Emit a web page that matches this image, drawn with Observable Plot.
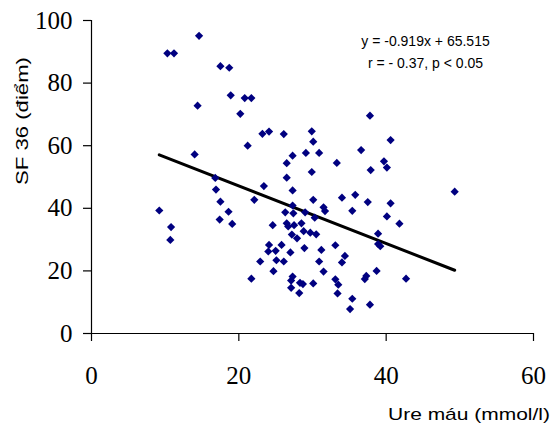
<!DOCTYPE html>
<html>
<head>
<meta charset="utf-8">
<script src="https://cdn.jsdelivr.net/npm/d3@7"></script>
<script src="https://cdn.jsdelivr.net/npm/@observablehq/plot@0.6"></script>
<style>
  html, body { margin: 0; padding: 0; background: #fff; }
  #chart svg { display: block; }
  .serif-lbl { font-family: "Liberation Serif", "Times New Roman", serif !important; }
  .sans-lbl { font-family: "Liberation Sans", Arial, sans-serif !important; }
</style>
</head>
<body>
<div id="chart"></div>
<script>
// Ure máu (mmol/l)
const ureMau = [
  9.2, 10.3, 11.2, 10.8, 10.7, 14.6, 14.4, 14.0, 16.8, 16.9,
  17.5, 18.6, 17.4, 19.1, 17.5, 18.7, 18.9, 20.8, 21.7, 20.2,
  21.2, 21.7, 22.1, 22.9, 23.2, 24.1, 23.4, 24.1, 24.0, 24.6,
  24.7, 25.0, 25.1, 25.8, 26.1, 26.1, 26.3, 26.5, 26.5, 26.5,
  26.7, 27.0, 27.3, 27.1, 27.1, 27.2, 27.3, 27.3, 27.4, 27.3,
  27.5, 27.9, 28.2, 28.3, 28.7, 28.5, 28.8, 28.9, 29.0, 29.1,
  29.7, 29.9, 30.1, 29.9, 30.1, 30.1, 30.3, 30.5, 30.9, 30.9,
  31.2, 31.5, 31.5, 31.7, 33.1, 33.1, 33.5, 33.4, 33.3, 34.0,
  34.4, 34.0, 35.1, 35.4, 35.4, 35.8, 36.6, 37.3, 37.1, 37.5,
  37.8, 37.8, 37.9, 38.7, 38.9, 38.9, 39.2, 39.7, 40.1, 40.1,
  40.6, 40.6, 41.8, 42.7, 49.3
];
// SF 36 (điểm)
const sf36 = [
  39.3, 89.5, 89.5, 34.0, 29.9, 95.1, 72.8, 57.2, 49.7, 46.0,
  42.1, 38.9, 36.4, 35.0, 85.4, 84.9, 76.1, 75.2, 75.2, 70.2,
  60.0, 17.5, 42.7, 23.0, 63.8, 64.5, 47.1, 28.3, 26.2, 34.6,
  19.9, 26.4, 23.4, 28.3, 23.0, 63.7, 38.7, 54.4, 49.8, 35.2,
  34.2, 25.9, 18.2, 16.9, 14.6, 31.6, 56.8, 45.7, 38.4, 40.9,
  34.6, 30.4, 12.9, 16.2, 15.8, 35.2, 32.7, 27.3, 38.7, 57.7,
  32.2, 64.6, 61.3, 51.6, 42.7, 16.0, 37.0, 31.7, 57.7, 23.0,
  26.7, 19.8, 40.3, 39.1, 28.2, 17.3, 15.6, 12.8, 54.5, 43.4,
  24.8, 22.7, 7.8, 39.2, 11.1, 44.3, 58.6, 18.4, 17.4, 42.0,
  69.6, 9.2, 52.2, 20.0, 31.9, 28.6, 27.9, 55.0, 53.0, 37.4,
  61.8, 41.6, 35.1, 17.5, 45.3
];

const slope = -0.919;
const intercept = 65.515;
const xTicks = [0, 20, 40, 60];
const yTicks = [0, 20, 40, 60, 80, 100];
const xTitle = "Ure máu (mmol/l)";
const yTitle = "SF 36 (điểm)";
const annotation = ["y = -0.919x + 65.515", "r = - 0.37, p < 0.05"];

const points = ureMau.map((x, i) => ({x, y: sf36[i]}));
const ext = d3.extent(ureMau);
const fitLine = ext.map(x => ({x, y: slope * x + intercept}));

const W = 552, H = 426;
const mL = 91, mT = 20, mB = 93, mR = 19;

const plot = Plot.plot({
  width: W,
  height: H,
  marginLeft: mL,
  marginTop: mT,
  marginBottom: mB,
  marginRight: mR,
  style: {fontSize: "25px", color: "#000", background: "#fff"},
  x: {domain: [0, 60]},
  y: {domain: [0, 100]},
  marks: [
    Plot.axisY(yTicks, {tickSize: 8, tickPadding: 11, label: null, fontSize: 25, className: "serif-lbl", strokeWidth: 1.2}),
    Plot.axisX(xTicks, {tickSize: 8, tickPadding: 25, label: null, fontSize: 25, className: "serif-lbl", strokeWidth: 1.2}),
    Plot.ruleX([0], {stroke: "#000", strokeWidth: 1.2}),
    Plot.ruleY([0], {stroke: "#000", strokeWidth: 1.2}),
    Plot.line(fitLine, {x: "x", y: "y", stroke: "#000", strokeWidth: 3}),
    Plot.dot(points, {x: "x", y: "y", symbol: "diamond2", r: 3.7, fill: "#000080", stroke: "none"}),
    Plot.text([annotation.join("\n")], {
      frameAnchor: "top-right", textAnchor: "middle", lineAnchor: "top",
      dx: -108, dy: 10.5, lineHeight: 1.54, className: "sans-lbl",
      fontSize: 14, fill: "#000"
    })
  ]
});

document.getElementById("chart").appendChild(plot);

const svg = d3.select(plot);

// axis titles
svg.append("text")
  .attr("class", "sans-lbl")
  .attr("x", 550).attr("y", 420)
  .attr("text-anchor", "end")
  .attr("font-size", 17)
  .attr("textLength", 162)
  .attr("lengthAdjust", "spacingAndGlyphs")
  .attr("fill", "#000")
  .text(xTitle);
svg.append("text")
  .attr("class", "sans-lbl")
  .attr("transform", "translate(28,121) rotate(-90)")
  .attr("text-anchor", "middle")
  .attr("font-size", 17)
  .attr("textLength", 128)
  .attr("lengthAdjust", "spacingAndGlyphs")
  .attr("fill", "#000")
  .text(yTitle);
</script>
</body>
</html>
